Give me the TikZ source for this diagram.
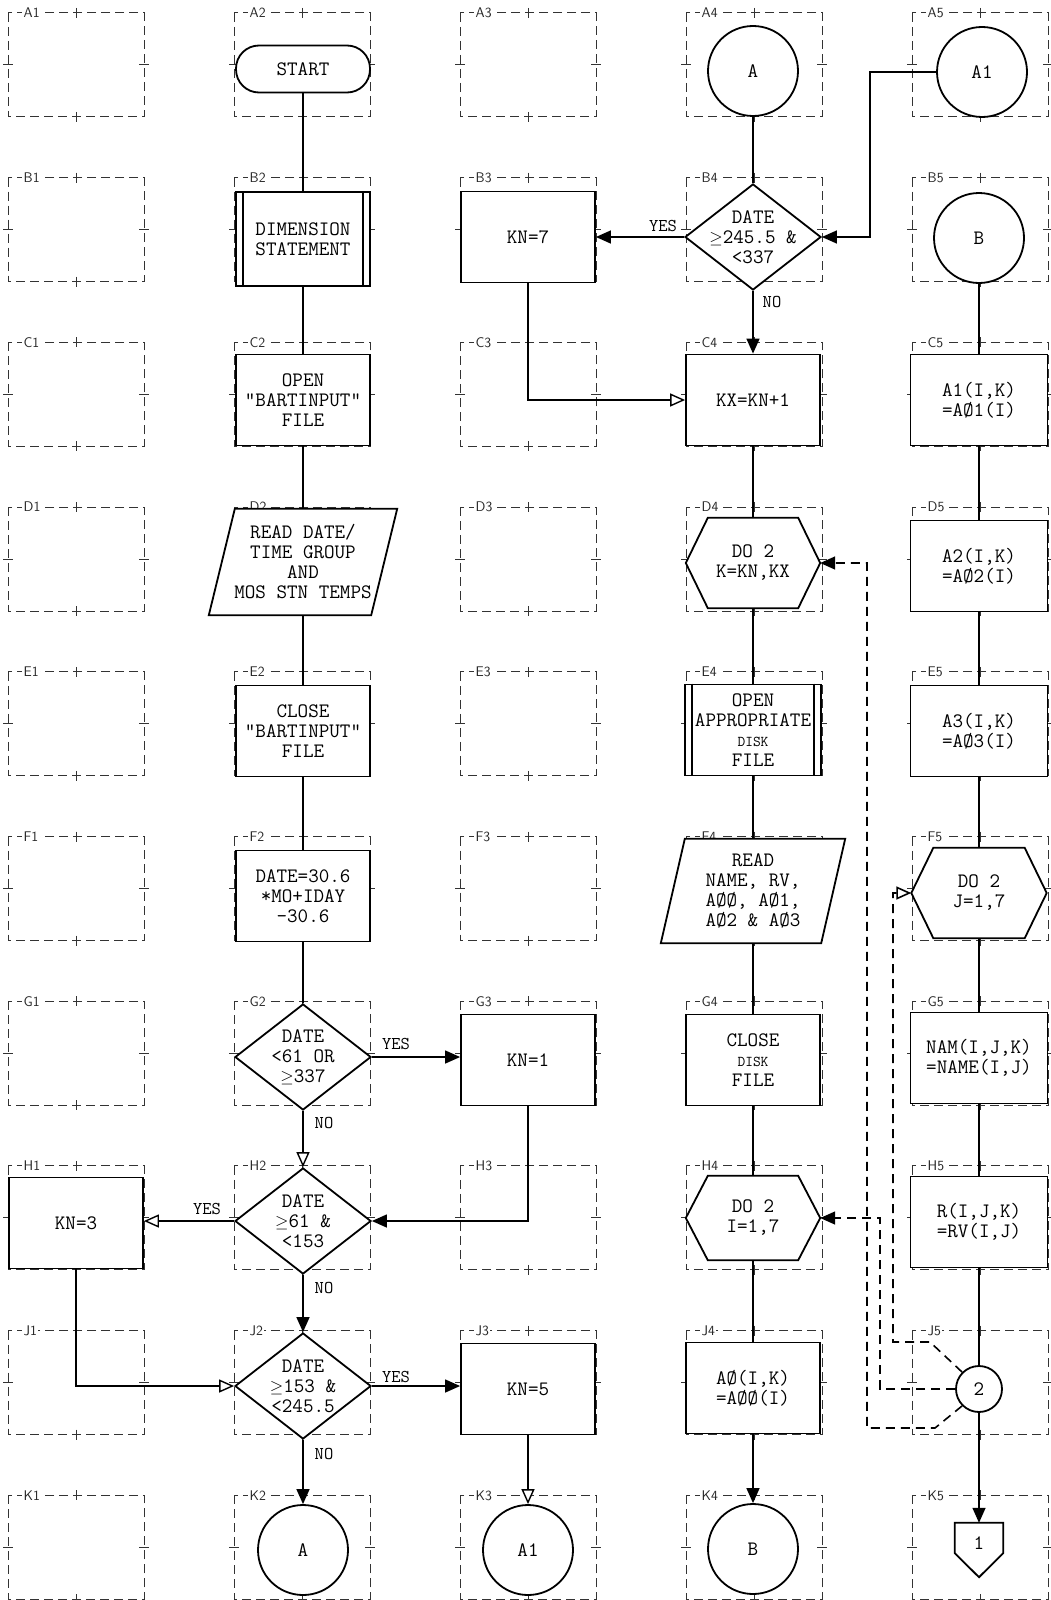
\documentclass[tikz,border=0pt]{standalone}
\usepackage{fontspec}
\newcommand\tw{\ttfamily}
\newcommand\gesym{{\fontsize{17}{20}\selectfont$\geq$}}
\usetikzlibrary{arrows.meta,shapes.geometric,backgrounds,calc}
\tikzset{
 shp/.style={draw, line width=1.8pt, fill=white, font=\tw\fontsize{20.5}{20}\selectfont, align=center, inner sep=2pt},
 procbox/.style={shp, rectangle, minimum width=134pt, minimum height=91pt},
 termbox/.style={shp, rectangle, rounded corners=23pt, minimum width=134pt, minimum height=47pt},
 conbox/.style={shp, circle, minimum size=90pt, inner sep=0pt},
 decbox/.style={shp, diamond, minimum width=136pt, minimum height=106pt, inner sep=0pt, aspect=1.28},
 dtext/.style={font=\tw\fontsize{20.5}{20}\selectfont, align=center, inner sep=0pt},
 txtonly/.style={rectangle, font=\tw\fontsize{20.5}{20}\selectfont, align=center, inner sep=0pt},
 outl/.style={draw, line width=1.8pt, fill=white, line join=miter},
 conn/.style={line width=1.4pt},
 dconn/.style={line width=1.6pt, dash pattern=on 9pt off 6pt},
 arrF/.style={-{Triangle[length=15pt,width=13pt]}},
 arrO/.style={-{Triangle[open,length=15pt,width=13pt,fill=white]}},
 yn/.style={font=\tw\fontsize{18}{18}\selectfont, inner sep=0pt},
 cellline/.style={line width=1pt, black!80, dash pattern=on 9pt off 5pt},
 tickline/.style={line width=1pt, black!80},
 celllabel/.style={anchor=west, fill=white, inner sep=1.5pt, text=black!85, font=\sffamily\fontsize{14}{14}\selectfont},
}
\begin{document}
\begin{tikzpicture}[x=1pt,y=-1pt]
\useasboundingbox (0,0) rectangle (1051,1600);
\begin{pgfonlayer}{background}
\fill[white] (0,0) rectangle (1051,1600);
\foreach \r [count=\i from 0] in {A,B,C,D,E,F,G,H,J,K}{
  \foreach \c in {0,...,4}{
    \pgfmathsetmacro\lx{8+226*\c}
    \pgfmathsetmacro\rx{\lx+136}
    \pgfmathsetmacro\ty{13+164.7*\i}
    \pgfmathsetmacro\by{\ty+104}
    \pgfmathsetmacro\mx{\lx+68}
    \pgfmathsetmacro\my{\ty+52}
    \pgfmathtruncatemacro\cn{\c+1}
    \draw[cellline] (\lx,\ty) rectangle (\rx,\by);
    \draw[tickline] (\mx,\ty-5) -- (\mx,\ty+5) (\mx,\by-5) -- (\mx,\by+5) (\lx-5,\my) -- (\lx+5,\my) (\rx-5,\my) -- (\rx+5,\my);
    \node[celllabel] (cell\r\cn) at (\lx+14,\ty) {\r\cn};
  }
}
\end{pgfonlayer}

% column 2
\node[termbox] (start) at (303,69) {START};
\node[procbox, minimum height=94pt] (b2) at (303,239) {DIMENSION\\STATEMENT};
\node[procbox] (c2) at (303,400) {OPEN\\"BARTINPUT"\\FILE};
\node[txtonly, minimum width=162pt, minimum height=106pt] (d2) at (303,562) {READ DATE/\\TIME GROUP\\AND\\MOS STN TEMPS};
\node[procbox] (e2) at (303,731) {CLOSE\\"BARTINPUT"\\FILE};
\node[procbox] (f2) at (303,896) {DATE=30.6\\*MO+IDAY\\-30.6};
\node[decbox, label={[dtext]center:{DATE\\<61 OR\\\gesym337}}] (g2) at (303,1057) {};
\node[decbox, label={[dtext]center:{DATE\\\gesym61 \&\\<153}}] (h2) at (303,1221) {};
\node[decbox, label={[dtext]center:{DATE\\\gesym153 \&\\<245.5}}] (j2) at (303,1386) {};
\node[conbox] (k2) at (303,1550) {A};
% column 1
\node[procbox] (h1) at (76,1223) {KN=3};
% column 3
\node[procbox] (b3) at (528,237) {KN=7};
\node[procbox] (g3) at (528,1060) {KN=1};
\node[procbox] (j3) at (528,1389) {KN=5};
\node[conbox] (k3) at (528,1550) {A1};
% column 4
\node[conbox] (a4) at (753,71) {A};
\node[decbox, label={[dtext]center:{DATE\\\gesym245.5 \&\\<337}}] (b4) at (753,237) {};
\node[procbox] (c4) at (753,400) {KX=KN+1};
\node[txtonly, minimum width=134pt, minimum height=90pt] (d4) at (753,563) {DO 2\\K=KN,KX};
\node[procbox, minimum width=136pt] (e4) at (753,730) {OPEN\\APPROPRIATE\\{\fontsize{15}{15}\selectfont DISK}\\FILE};
\node[txtonly, minimum width=160pt, minimum height=104pt] (f4) at (753,891) {READ\\NAME, RV,\\AØØ, AØ1,\\AØ2 \& AØ3};
\node[procbox] (g4) at (753,1060) {CLOSE\\{\fontsize{15}{15}\selectfont DISK}\\FILE};
\node[txtonly, minimum width=134pt, minimum height=84pt] (h4) at (753,1218) {DO 2\\I=1,7};
\node[procbox] (j4) at (753,1388) {AØ(I,K)\\=AØØ(I)};
\node[conbox] (k4) at (753,1549) {B};
% column 5
\node[conbox] (a5) at (982,72) {A1};
\node[conbox] (b5) at (979,238) {B};
\node[procbox, minimum width=137pt] (c5) at (979,400) {A1(I,K)\\=AØ1(I)};
\node[procbox, minimum width=137pt] (d5) at (979,566) {A2(I,K)\\=AØ2(I)};
\node[procbox, minimum width=137pt] (e5) at (979,731) {A3(I,K)\\=AØ3(I)};
\node[txtonly, minimum width=135pt, minimum height=90pt] (f5) at (979,893) {DO 2\\J=1,7};
\node[procbox, minimum width=137pt] (g5) at (979,1058) {NAM(I,J,K)\\=NAME(I,J)};
\node[procbox, minimum width=137pt] (h5) at (979,1222) {R(I,J,K)\\=RV(I,J)};
\node[conbox, minimum size=46pt] (j5c) at (979,1389) {2};
\node[txtonly, minimum width=48pt, minimum height=40pt] (k5) at (979,1543) {1};

% outlines of special shapes
\begin{pgfonlayer}{background}
\draw[outl] ([xshift=13pt]d2.north west) -- ([xshift=13pt]d2.north east) -- ([xshift=-13pt]d2.south east) -- ([xshift=-13pt]d2.south west) -- cycle;
\draw[outl] ([xshift=12pt]f4.north west) -- ([xshift=12pt]f4.north east) -- ([xshift=-12pt]f4.south east) -- ([xshift=-12pt]f4.south west) -- cycle;
\foreach \h in {d4,h4,f5}{
  \draw[outl] (\h.west) -- ([xshift=22pt]\h.north west) -- ([xshift=-22pt]\h.north east) -- (\h.east) -- ([xshift=-22pt]\h.south east) -- ([xshift=22pt]\h.south west) -- cycle;
}
\draw[outl] (k5.north west) -- (k5.north east) -- ([yshift=10pt]k5.south east) -- ([yshift=-14pt]k5.south) -- ([yshift=10pt]k5.south west) -- cycle;
\end{pgfonlayer}

% predefined process side bars
\draw[line width=1.8pt] ([xshift=8pt]b2.north west) -- ([xshift=8pt]b2.south west)
  ([xshift=-8pt]b2.north east) -- ([xshift=-8pt]b2.south east);
\draw[line width=1.8pt] ([xshift=8pt]e4.north west) -- ([xshift=8pt]e4.south west)
  ([xshift=-8pt]e4.north east) -- ([xshift=-8pt]e4.south east);

% main flow column 2
\draw[conn] (start.south) -- (b2.north);
\draw[conn] (b2.south) -- (c2.north);
\draw[conn] (c2.south) -- (d2.north);
\draw[conn] (d2.south) -- (e2.north);
\draw[conn] (e2.south) -- (f2.north);
\draw[conn] (f2.south) -- (g2.north);
\draw[conn,arrF] (g2.east) -- (g2.east -| g3.west);
\draw[conn,arrO] (g2.south) -- (h2.north);
\draw[conn,arrF] (g3.south) |- (h2.east);
\draw[conn,arrO] (h2.west) -- (h2.west -| h1.east);
\draw[conn,arrF] (h2.south) -- (j2.north);
\draw[conn,arrO] (h1.south) |- (j2.west);
\draw[conn,arrF] (j2.east) -- (j2.east -| j3.west);
\draw[conn,arrF] (j2.south) -- (k2.north);
\draw[conn,arrO] (j3.south) -- (k3.north);

% column 4
\coordinate (a1turn) at (870,72);
\draw[conn] (a4.south) -- (b4.north);
\draw[conn,arrF] (b4.west) -- (b4.west -| b3.east);
\draw[conn,arrF] (b4.south) -- (c4.north);
\draw[conn,arrO] (b3.south) |- (c4.west);
\draw[conn,arrF] (a5.west) -- (a1turn) |- (b4.east);
\draw[conn] (c4.south) -- (d4.north);
\draw[conn] (d4.south) -- (e4.north);
\draw[conn] (e4.south) -- (f4.north);
\draw[conn] (f4.south) -- (g4.north);
\draw[conn] (g4.south) -- (h4.north);
\draw[conn] (h4.south) -- (j4.north);
\draw[conn,arrF] (j4.south) -- (k4.north);

% column 5
\draw[conn] (b5.south) -- (c5.north);
\draw[conn] (c5.south) -- (d5.north);
\draw[conn] (d5.south) -- (e5.north);
\draw[conn] (e5.south) -- (f5.north);
\draw[conn] (f5.south) -- (g5.north);
\draw[conn] (g5.south) -- (h5.north);
\draw[conn] (h5.south) -- (j5c.north);
\draw[conn,arrF] (j5c.south) -- (k5.north);

% loop returns
\coordinate (l1a) at (930,1342);
\coordinate (l1b) at (893,1342);
\coordinate (l2a) at (880,1389);
\coordinate (l3a) at (935,1428);
\coordinate (l3b) at (867,1428);
\draw[dconn,arrO] (j5c.135) -- (l1a) -- (l1b) |- (f5.west);
\draw[dconn,arrF] (j5c.west) -- (l2a) |- (h4.east);
\draw[dconn,arrF] (j5c.225) -- (l3a) -- (l3b) |- (d4.east);

% YES / NO labels
\node[yn] (yesb4) at (663,226) {YES};
\node[yn] (nob4) at (772,302) {NO};
\node[yn] (yesg2) at (396,1044) {YES};
\node[yn] (nog2) at (324,1123) {NO};
\node[yn] (yesh2) at (207,1209) {YES};
\node[yn] (noh2) at (324,1288) {NO};
\node[yn] (yesj2) at (396,1377) {YES};
\node[yn] (noj2) at (324,1454) {NO};
\end{tikzpicture}
\end{document}
